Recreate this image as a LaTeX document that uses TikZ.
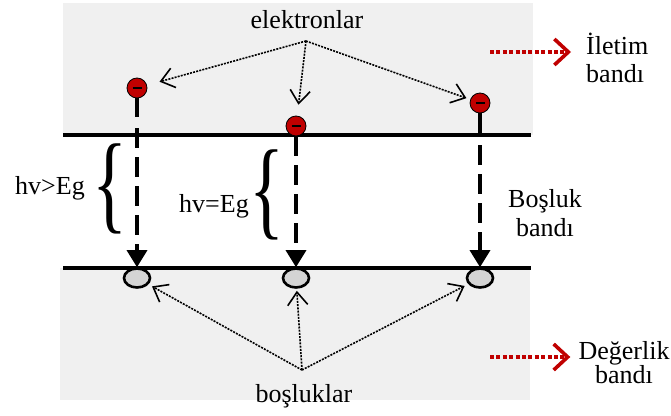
\documentclass[tikz,border=0pt]{standalone}
\usepackage{fontspec}
\usepackage{graphicx}
\setmainfont{Liberation Serif}
\usetikzlibrary{arrows.meta,shapes.geometric}
\definecolor{elred}{RGB}{192,0,0}
\definecolor{bandgray}{RGB}{240,240,240}
\definecolor{holegray}{RGB}{212,212,212}
\tikzset{ELel/.style={circle,draw,line width=0.8pt,fill=elred,inner sep=0pt,minimum size=20pt},
         ELhole/.style={ellipse,draw,line width=2.6pt,fill=holegray,inner sep=0pt,minimum width=26pt,minimum height=19pt},
         ELlab/.style={font=\fontsize{26}{28}\selectfont,inner sep=0pt},
         ELstub/.style={line width=3.2pt},
         ELdrop/.style={line width=3.2pt,dash pattern=on 20pt off 9pt,-{Triangle[width=20pt,length=17pt]}},
         ELptr/.style={line width=1.6pt,dash pattern=on 2pt off 1.2pt,-{Straight Barb[length=13pt,width=20pt]}},
         ELred/.style={elred,line width=3.6pt,dash pattern=on 4pt off 2.4pt,-{Straight Barb[length=14pt,width=26pt]}}}
\newcommand{\ELbrace}{\scalebox{2.8}[4.2]{\fontsize{26}{26}\selectfont\{}}

\begin{document}
\begin{tikzpicture}[x=1pt,y=-1pt]
  \useasboundingbox (0,0) rectangle (671,415);
  % conduction and valence bands
  \fill[bandgray] (63,3) rectangle (533,135);
  \fill[bandgray] (60,268) rectangle (530,400);
  \coordinate (t1) at (63,135); \coordinate (t2) at (531,135);
  \coordinate (b1) at (63,268); \coordinate (b2) at (531,268);
  \draw[line width=3.2pt] (t1) -- (t2);
  \draw[line width=3.2pt] (b1) -- (b2);
  % electrons and holes
  \foreach \n/\x/\y in {1/137/88,2/296/126,3/480/103}
     \node[ELel] (e\n) at (\x,\y) {\rule[-1.3pt]{9pt}{2.6pt}};
  \foreach \n/\x in {1/137,2/296,3/480}
     \node[ELhole] (h\n) at (\x,278) {};
  % transitions
  \coordinate (k1) at (137,117); \coordinate (k3) at (480,135);
  \draw[ELstub] (e1) -- (k1); \draw[ELdrop,shorten <=11pt] (k1) -- (h1);
  \draw[ELdrop] (e2) -- (h2);
  \draw[ELstub] (e3) -- (k3); \draw[ELdrop,shorten <=10pt] (k3) -- (h3);
  % energies
  \node[inner sep=0pt] (br1) at (110,189) {\ELbrace};
  \node[inner sep=0pt] (br2) at (267,195) {\ELbrace};
  \node[ELlab,anchor=base] (gt) at (50,194) {hv>Eg};
  \node[ELlab,anchor=base] (eq) at (214,212) {hv=Eg};
  \node[ELlab,anchor=south,align=center] (gap) at (545,237) {Boşluk\\[1pt]bandı};
  % pointers
  \node[ELlab,anchor=base] (elek) at (307,28) {elektronlar};
  \node[ELlab,anchor=base] (bos) at (304,402) {boşluklar};
  \coordinate (eo) at (306,41); \coordinate (bo) at (302,370);
  \draw[ELptr,shorten >=13pt] (eo) -- (e1);
  \draw[ELptr,shorten >=11pt] (eo) -- (e2);
  \draw[ELptr,shorten >=4pt] (eo) -- (e3);
  \draw[ELptr,shorten >=4pt] (bo) -- (h1);
  \draw[ELptr,shorten >=2pt] (bo) -- (h2);
  \draw[ELptr,shorten >=4pt] (bo) -- (h3);
  % band names
  \node[ELlab,anchor=south west,align=left] (ilet) at (586,83) {İletim\\bandı};
  \node[ELlab,anchor=south,align=center] (deg) at (624,384) {Değerlik\\[-4pt]bandı};
  \coordinate (r1) at (490,52); \coordinate (r2) at (490,357);
  \draw[ELred,shorten >=15pt] (r1) -- (r1 -| ilet.west);
  \draw[ELred,shorten >=8pt] (r2) -- (r2 -| deg.west);
\end{tikzpicture}
\end{document}
